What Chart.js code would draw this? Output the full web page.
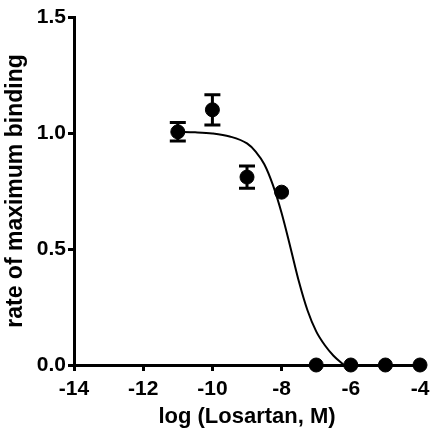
<!DOCTYPE html>
<html>
<head>
<meta charset="utf-8">
<script src="https://cdn.jsdelivr.net/npm/chart.js@4.4.1/dist/chart.umd.min.js"></script>
<style>
  html, body { margin: 0; padding: 0; background: #fff; }
  #wrap { width: 440px; height: 443px; }
</style>
</head>
<body>
<div id="wrap"><canvas id="bindingChart" width="440" height="443"></canvas></div>
<script>
// measured points (mean and error)
const logConc = [-11, -10, -9, -8, -7, -6, -5, -4];
const binding = [1.005, 1.10, 0.81, 0.745, 0, 0, 0, 0];
const bindingErr = [0.04, 0.065, 0.048, 0, 0, 0, 0, 0];

// fitted curve
const fitX = [-11, -10.5, -10, -9.5, -9, -8.75, -8.5, -8.25, -8, -7.75, -7.5, -7.25, -7, -6.75, -6.5, -6.2];
const fitY = [1.005, 1.003, 0.998, 0.985, 0.955, 0.92, 0.865, 0.775, 0.655, 0.51, 0.36, 0.235, 0.145, 0.085, 0.04, 0];

const xTicks = [-14, -12, -10, -8, -6, -4];
const yTicks = [0, 0.5, 1.0, 1.5];

const fontFam = '"Liberation Sans", Arial, Helvetica, sans-serif';

// error bars drawn with the chart's own scales
const errorBars = {
    id: 'errorBars',
    afterDatasetsDraw(chart) {
        const ctx = chart.ctx;
        const xs = chart.scales.x, ys = chart.scales.y;
        ctx.save();
        ctx.strokeStyle = '#000';
        ctx.lineWidth = 3;
        logConc.forEach(function(x, i) {
            const e = bindingErr[i];
            if (!e) return;
            const px = xs.getPixelForValue(x);
            const top = ys.getPixelForValue(binding[i] + e);
            const bot = ys.getPixelForValue(binding[i] - e);
            ctx.beginPath();
            ctx.moveTo(px, top); ctx.lineTo(px, bot);
            ctx.moveTo(px - 8, top); ctx.lineTo(px + 8, top);
            ctx.moveTo(px - 8, bot); ctx.lineTo(px + 8, bot);
            ctx.stroke();
        });
        ctx.restore();
    }
};

const ctx = document.getElementById('bindingChart').getContext('2d');
new Chart(ctx, {
    type: 'scatter',
    data: {
        datasets: [{
            label: 'fit',
            data: fitX.map((x, i) => ({x: x, y: fitY[i]})),
            showLine: true,
            borderColor: '#000',
            borderWidth: 2,
            pointRadius: 0,
            cubicInterpolationMode: 'monotone',
            fill: false
        }, {
            label: 'binding',
            data: logConc.map((x, i) => ({x: x, y: binding[i]})),
            backgroundColor: '#000',
            borderColor: '#000',
            pointRadius: 7,
            pointHoverRadius: 7,
            clip: false
        }]
    },
    options: {
        responsive: false,
        animation: false,
        events: [],
        layout: { padding: { left: 0, top: 17, right: 20, bottom: 0 } },
        plugins: { legend: { display: false }, tooltip: { enabled: false } },
        scales: {
            x: {
                type: 'linear',
                min: -14, max: -4,
                afterBuildTicks: function(s) { s.ticks = xTicks.map(v => ({value: v})); },
                afterFit: function(s) { s.height = 78; },
                border: { color: '#000', width: 3 },
                grid: { drawOnChartArea: false, color: '#000', tickLength: 6, tickWidth: 3 },
                ticks: { color: '#000', padding: 6, font: { family: fontFam, size: 21, weight: 'bold' } },
                title: {
                    display: true, text: 'log (Losartan, M)', color: '#000',
                    font: { family: fontFam, size: 22, weight: 'bold' }, padding: { top: 4, bottom: 13 }
                }
            },
            y: {
                type: 'linear',
                min: 0, max: 1.5,
                afterBuildTicks: function(s) { s.ticks = yTicks.map(v => ({value: v})); },
                afterFit: function(s) { s.width = 74; },
                border: { color: '#000', width: 3 },
                grid: { drawOnChartArea: false, color: '#000', tickLength: 6, tickWidth: 3 },
                ticks: {
                    color: '#000', padding: 2,
                    font: { family: fontFam, size: 21, weight: 'bold' },
                    callback: v => v.toFixed(1)
                },
                title: {
                    display: true, text: 'rate of maximum binding', color: '#000',
                    font: { family: fontFam, size: 23, weight: 'bold' }, padding: { top: 2, bottom: 2 }
                }
            }
        }
    },
    plugins: [errorBars]
});
</script>
</body>
</html>
